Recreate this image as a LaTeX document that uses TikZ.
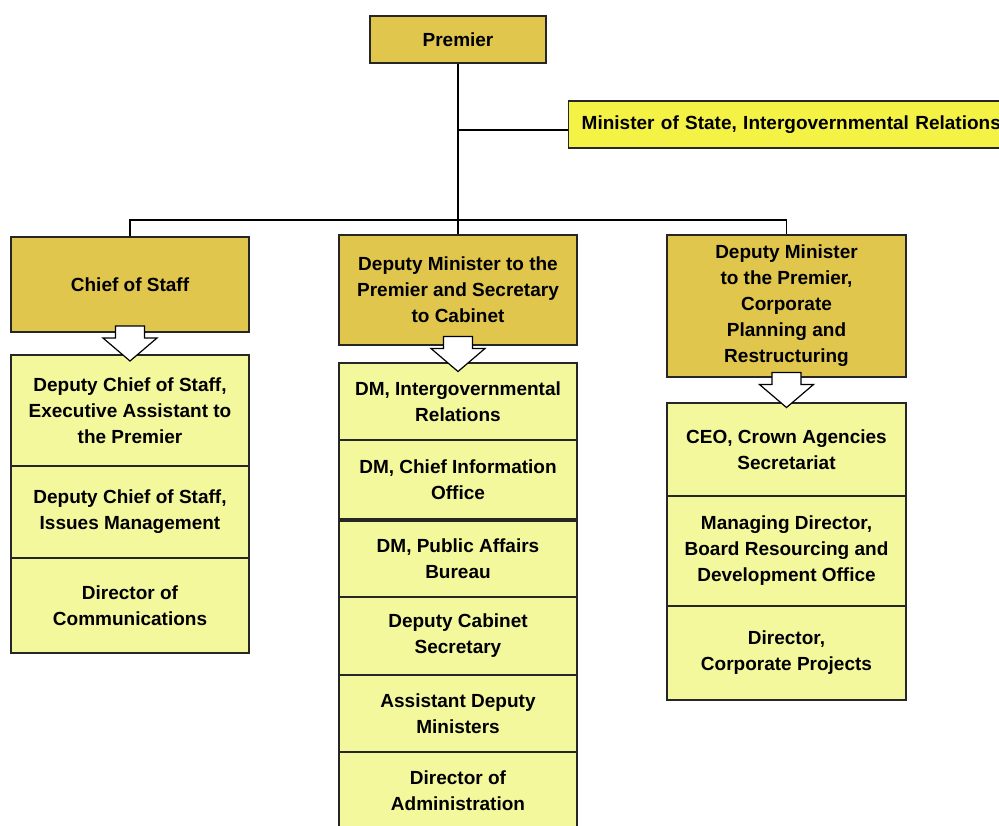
\documentclass[tikz,border=0pt]{standalone}
\usepackage{fontspec}
\setmainfont{Liberation Sans}
\usetikzlibrary{calc}

\definecolor{gold}{HTML}{E0C64C}
\definecolor{lemon}{HTML}{F5F246}
\definecolor{pale}{HTML}{F4F89C}

\tikzset{
	office/.style={draw=black!85, line width=1.1pt, fill=gold, inner sep=0pt, align=center,
		font=\bfseries\fontsize{14.25pt}{19.5pt}\selectfont},
	staff/.style={office, fill=pale},
	link/.style={draw=black, line width=1pt},
	pics/hollowdown/.style={code={
		\draw[draw=black, line width=0.9pt, fill=white]
			(-14.5,-17.5) -- (14.5,-17.5) -- (14.5,-5.5) -- (27,-5.5) -- (0,17.5)
			-- (-27,-5.5) -- (-14.5,-5.5) -- cycle;
	}}
}

\begin{document}
\begin{tikzpicture}[x=0.75pt, y=-0.75pt]
\clip (0,0) rectangle (999,825);
% top
\node[office, minimum width=132pt, minimum height=35.25pt] (premier) at (458,39.5) {Premier};
\node[office, fill=lemon, anchor=west, minimum height=35.25pt, inner xsep=9.75pt,
	text width=325.5pt, align=left] (minister) at (568,124.5) {Minister of State, Intergovernmental Relations};
\coordinate (mtap) at (458,130);
\coordinate (bus) at (458,220);
% heads of the three branches
\node[office, minimum width=178.5pt, minimum height=71.25pt] (cos) at (130,284.5) {Chief of Staff};
\node[office, minimum width=178.5pt, minimum height=82.5pt] (dms) at (458,290)
	{Deputy Minister to the\\Premier and Secretary\\to Cabinet};
\node[office, minimum width=179.25pt, minimum height=106.5pt] (dmcp) at (786.5,306)
	{Deputy Minister\\to the Premier,\\Corporate\\Planning and\\Restructuring};
% left column
\begin{scope}[every node/.style={staff, minimum width=178.5pt}]
	\node[minimum height=83.25pt] (l1) at (130,410.5) {Deputy Chief of Staff,\\Executive Assistant to\\the Premier};
	\node[minimum height=69pt] (l2) at (130,512) {Deputy Chief of Staff,\\Issues Management};
	\node[minimum height=71.25pt] (l3) at (130,605.5) {Director of\\Communications};
\end{scope}
% middle column
\begin{scope}[every node/.style={staff, minimum width=178.5pt}]
	\node[minimum height=57.75pt] (m1) at (458,401.5) {DM, Intergovernmental\\Relations};
	\node[minimum height=59.25pt] (m2) at (458,479.5) {DM, Chief Information\\Office};
	\node[minimum height=57pt] (m3) at (458,559) {DM, Public Affairs\\Bureau};
	\node[minimum height=58.5pt] (m4) at (458,636) {Deputy Cabinet\\Secretary};
	\node[minimum height=57.75pt] (m5) at (458,713.5) {Assistant Deputy\\Ministers};
	\node[minimum height=58.5pt] (m6) at (458,791) {Director of\\Administration};
\end{scope}
% right column
\begin{scope}[every node/.style={staff, minimum width=179.25pt}]
	\node[minimum height=69.75pt] (r1) at (786.5,449.5) {CEO, Crown Agencies\\Secretariat};
	\node[minimum height=82.5pt] (r2) at (786.5,551) {Managing Director,\\Board Resourcing and\\Development Office};
	\node[minimum height=70.5pt] (r3) at (786.5,653) {Director,\\Corporate Projects};
\end{scope}
% lines
\draw[link] (premier) -- (bus);
\draw[link] (mtap) -- (minister.west |- mtap);
\draw[link] (cos.north) |- (bus) -| (dmcp.north);
\draw[link] (bus) -- (dms.north);
% hollow arrows
\pic at ($(cos.south)!0.5!(l1.north)$) {hollowdown};
\pic at ($(dms.south)!0.5!(m1.north)$) {hollowdown};
\pic at ($(dmcp.south)!0.5!(r1.north)$) {hollowdown};
\end{tikzpicture}
\end{document}
